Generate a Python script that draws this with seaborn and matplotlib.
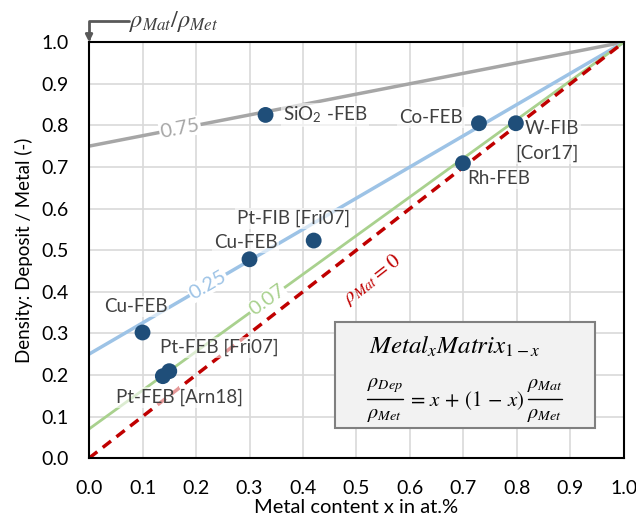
import numpy as np
import pandas as pd
import matplotlib.pyplot as plt
import matplotlib.patches as mpatches
import seaborn as sns

# ---- data ----
pt_label = ["SiO$_\\mathregular{2}$ -FEB", "Co-FEB", "W-FIB\n[Cor17]", "Rh-FEB",
            "Pt-FIB [Fri07]", "Cu-FEB", "Cu-FEB", "Pt-FEB [Fri07]", "Pt-FEB [Arn18]"]
pt_x = [0.33, 0.729, 0.798, 0.699, 0.42, 0.30, 0.10, 0.15, 0.138]
pt_y = [0.825, 0.805, 0.805, 0.709, 0.523, 0.478, 0.302, 0.209, 0.197]

ratio = [0.75, 0.25, 0.07, 0.0]          # rho_Mat / rho_Met
ratio_text = ["0.75", "0.25", "0.07", None]
line_x = [0.0, 1.0]

x_ticks = [0.0, 0.1, 0.2, 0.3, 0.4, 0.5, 0.6, 0.7, 0.8, 0.9, 1.0]
y_ticks = [0.0, 0.1, 0.2, 0.3, 0.4, 0.5, 0.6, 0.7, 0.8, 0.9, 1.0]

# ---- style ----
sns.set_style("white")
plt.rcParams["font.family"] = ["Lato", "DejaVu Sans"]
plt.rcParams["mathtext.fontset"] = "stix"

line_colors = ["#a6a6a6", "#9dc3e6", "#a9d18e", "#c00000"]
line_styles = ["-", "-", "-", "--"]
line_widths = [2.5, 2.5, 2.0, 2.5]
label_pos_x = [0.17, 0.222, 0.333, None]
txt_grey = "#404040"

fig = plt.figure(figsize=(6.36, 5.2), dpi=100)
ax = fig.add_axes([0.140, 0.119, 0.841, 0.800])

# model lines
for r, c, ls, lw in zip(ratio, line_colors, line_styles, line_widths):
    d = pd.DataFrame({"x": line_x, "y": [r, 1.0]})
    sns.lineplot(data=d, x="x", y="y", ax=ax, color=c, lw=lw, zorder=2)
    ax.lines[-1].set_linestyle(ls)
    if ls == "--":
        ax.lines[-1].set_dashes((3, 2))

# inline line labels
for r, t, c, lx in zip(ratio, ratio_text, line_colors, label_pos_x):
    if t is None:
        continue
    ly = lx + (1 - lx) * r
    ang = np.degrees(np.arctan(1 - r))
    ax.text(lx, ly, t, color=c, fontsize=14.5, ha="center", va="center",
            rotation=ang, rotation_mode="anchor", transform_rotates_text=True,
            bbox=dict(boxstyle="square,pad=0.05", fc="white", ec="none"), zorder=3)

ax.text(0.53, 0.43, r"$\rho_{Mat} = 0$", color="#c00000", fontsize=15,
        ha="center", va="center", rotation=np.degrees(np.arctan(1.0)),
        rotation_mode="anchor", transform_rotates_text=True, zorder=3)

# data points
pts = pd.DataFrame({"x": pt_x, "y": pt_y, "label": pt_label})
sns.scatterplot(data=pts, x="x", y="y", ax=ax, s=130, color="#1f4e79",
                edgecolor="none", zorder=5)

offsets = [(17, 0, "left"), (-16, 6, "right"), (63, -18, "right"), (4, -15, "left"),
           (-20, 22, "center"), (-4, 17, "center"), (-7, 26, "center"),
           (-9, 24, "left"), (-47, -21, "left")]
for (xx, yy, lab), (dx, dy, ha) in zip(zip(pt_x, pt_y, pt_label), offsets):
    ax.annotate(lab, (xx, yy), xytext=(dx, dy), textcoords="offset pixels",
                ha=ha, va="center", fontsize=13.5, color=txt_grey, linespacing=1.55,
                multialignment=ha,
                bbox=dict(boxstyle="square,pad=0.1", fc="white", ec="none", alpha=0.6),
                zorder=4)

# formula box
ax.add_patch(mpatches.Rectangle((0.46, 0.072), 0.486, 0.255, transform=ax.transAxes,
                                fc="#f2f2f2", ec="#808080", lw=1.5, zorder=6))
ax.text(0.683, 0.268, r"$Metal_{x}Matrix_{1-x}$", transform=ax.transAxes,
        ha="center", va="center", fontsize=18, color="black", zorder=7)

# rho_Dep/rho_Met = x + (1-x) rho_Mat/rho_Met, fractions drawn full size
fkw = dict(transform=ax.transAxes, ha="center", va="center", fontsize=14.5,
           color="black", zorder=7)
ax.text(0.553, 0.174, r"$\rho_{Dep}$", **fkw)
ax.text(0.553, 0.102, r"$\rho_{Met}$", **fkw)
ax.text(0.705, 0.139, r"$=\,x\,+\,(1\,-\,x)$", **dict(fkw, fontsize=15))
ax.text(0.852, 0.174, r"$\rho_{Mat}$", **fkw)
ax.text(0.852, 0.102, r"$\rho_{Met}$", **fkw)
for x0, x1 in [(0.519, 0.587), (0.820, 0.884)]:
    ax.plot([x0, x1], [0.141, 0.141], transform=ax.transAxes, color="black",
            lw=1.0, zorder=7)

# top-left ratio marker
ax.annotate("", xy=(0.0, 1.0), xytext=(0.075, 1.05), xycoords="axes fraction",
            textcoords="axes fraction",
            arrowprops=dict(arrowstyle="-|>", color="#595959", lw=2,
                            connectionstyle="angle,angleA=180,angleB=90,rad=0",
                            shrinkA=0, shrinkB=0, mutation_scale=10),
            annotation_clip=False)
ax.text(0.075, 1.05, r"$\rho_{Mat}/\rho_{Met}$", transform=ax.transAxes,
        ha="left", va="center", fontsize=17.5, color="#404040")

# axes
ax.set_xlim(0, 1)
ax.set_ylim(0, 1)
ax.set_xticks(x_ticks)
ax.set_yticks(y_ticks)
ax.set_xticklabels([f"{v:.1f}" for v in x_ticks])
ax.set_yticklabels([f"{v:.1f}" for v in y_ticks])
ax.set_xticks(np.arange(0.05, 1.0, 0.1), minor=True)
ax.set_yticks(np.arange(0.05, 1.0, 0.1), minor=True)
ax.tick_params(which="major", direction="inout", length=9, width=1.5,
               labelsize=14, colors="black")
ax.tick_params(axis="x", which="major", pad=11)
ax.tick_params(axis="y", which="major", pad=10)
ax.tick_params(which="minor", direction="in", length=5, width=1.2)
ax.grid(True, which="major", color="#d9d9d9", lw=1.2, zorder=0)
ax.set_axisbelow(True)
for sp in ax.spines.values():
    sp.set_color("black")
    sp.set_linewidth(1.5)
ax.set_xlabel("Metal content x in at.%", fontsize=14.5, color="black", labelpad=2)
ax.set_ylabel("Density: Deposit / Metal (-)", fontsize=13.5, color="black", labelpad=6)

fig.savefig("out.png", dpi=100, facecolor="white")
